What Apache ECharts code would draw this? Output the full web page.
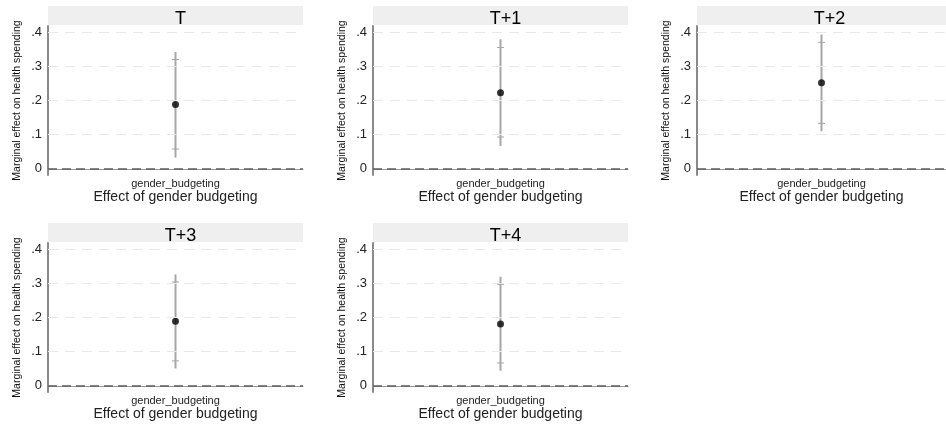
<!DOCTYPE html>
<html>
<head>
<meta charset="utf-8">
<script src="https://cdn.jsdelivr.net/npm/echarts@6/dist/echarts.min.js"></script>
<style>
  html, body { margin: 0; padding: 0; background: #fff; }
  #chart { width: 946px; height: 425px; }
</style>
</head>
<body>
<div id="chart"></div>
<script>
// panel titles and the single x category
var panels = ['T', 'T+1', 'T+2', 'T+3', 'T+4'];
var category = ['gender_budgeting'];

// point estimates and confidence bounds
var estimate = [0.188, 0.223, 0.252, 0.189, 0.181];
var ciOuterLow = [0.033, 0.067, 0.110, 0.051, 0.044];
var ciOuterHigh = [0.342, 0.379, 0.393, 0.326, 0.319];
var ciInnerLow = [0.058, 0.093, 0.133, 0.073, 0.067];
var ciInnerHigh = [0.320, 0.355, 0.370, 0.304, 0.297];

// y tick labels
var yTicks = [0, 0.1, 0.2, 0.3, 0.4];

var chart = echarts.init(document.getElementById('chart'));

// panel boxes (plot area), in px
var boxes = [
    {left: 48, top: 26, width: 255, height: 149},
    {left: 373, top: 26, width: 255, height: 149},
    {left: 697, top: 26, width: 255, height: 149},
    {left: 48, top: 243, width: 255, height: 149},
    {left: 373, top: 243, width: 255, height: 149}
];

var font = 'Liberation Sans, Arial, sans-serif';
var grids = [], xAxes = [], yAxes = [], series = [], titles = [], graphics = [];

boxes.forEach(function (b, i) {
    grids.push({left: b.left, top: b.top, width: b.width, height: b.height, containLabel: false});

    xAxes.push({
        type: 'category',
        gridIndex: i,
        data: category,
        boundaryGap: true,
        axisLine: {lineStyle: {color: '#9a9a9a', width: 1}},
        axisTick: {show: false},
        axisLabel: {fontFamily: font, fontSize: 11, color: '#222', margin: 3},
        name: 'Effect of gender budgeting',
        nameLocation: 'middle',
        nameGap: 14,
        nameTextStyle: {fontFamily: font, fontSize: 14, color: '#222', verticalAlign: 'top'}
    });

    yAxes.push({
        type: 'value',
        gridIndex: i,
        min: -0.018,
        max: 0.418,
        axisLine: {show: true, lineStyle: {color: '#8a8a8a', width: 2}},
        axisTick: {show: false, customValues: yTicks},
        axisLabel: {
            customValues: yTicks,
            fontFamily: font, fontSize: 13, color: '#222', margin: 6,
            formatter: function (v) {
                if (Math.abs(v) < 1e-9) return '0';
                return ('' + (+v.toFixed(2))).replace(/^0/, '');
            }
        },
        splitLine: {show: false},
        name: 'Marginal effect on health spending',
        nameLocation: 'middle',
        nameGap: 25,
        nameTextStyle: {fontFamily: font, fontSize: 10.5, color: '#111'}
    });

    // gridlines and the zero reference line
    series.push({
        type: 'line',
        xAxisIndex: i,
        yAxisIndex: i,
        data: [],
        silent: true,
        markLine: {
            symbol: 'none',
            silent: true,
            label: {show: false},
            data: yTicks.map(function (t) {
                return {
                    yAxis: t,
                    lineStyle: t === 0
                        ? {color: '#5e5e5e', width: 1.6, type: [9, 5]}
                        : {color: '#e8e8e8', width: 1, type: [10, 7]}
                };
            })
        }
    });

    // error bar: outer interval line with small caps at the inner interval
    series.push({
        type: 'custom',
        xAxisIndex: i,
        yAxisIndex: i,
        data: [[0, ciOuterLow[i], ciOuterHigh[i], ciInnerLow[i], ciInnerHigh[i]]],
        renderItem: function (params, api) {
            var lo = api.coord([api.value(0), api.value(1)]);
            var hi = api.coord([api.value(0), api.value(2)]);
            var ilo = api.coord([api.value(0), api.value(3)]);
            var ihi = api.coord([api.value(0), api.value(4)]);
            var st = {stroke: '#a6a6a6', lineWidth: 2};
            var cap = {stroke: '#a6a6a6', lineWidth: 1};
            return {
                type: 'group',
                children: [
                    {type: 'line', shape: {x1: lo[0], y1: lo[1], x2: hi[0], y2: hi[1]}, style: st},
                    {type: 'line', shape: {x1: ilo[0] - 3.5, y1: ilo[1], x2: ilo[0] + 3.5, y2: ilo[1]}, style: cap},
                    {type: 'line', shape: {x1: ihi[0] - 3.5, y1: ihi[1], x2: ihi[0] + 3.5, y2: ihi[1]}, style: cap}
                ]
            };
        },
        z: 3
    });

    series.push({
        type: 'scatter',
        xAxisIndex: i,
        yAxisIndex: i,
        data: [[0, estimate[i]]],
        symbol: 'circle',
        symbolSize: 7,
        itemStyle: {color: '#000'},
        z: 4
    });

    // title strip
    graphics.push({
        type: 'rect',
        shape: {x: b.left, y: b.top - 20, width: b.width, height: 19},
        style: {fill: '#efefef'},
        silent: true
    });
    titles.push({
        text: panels[i],
        left: b.left + b.width / 2,
        top: b.top - 21,
        textAlign: 'center',
        textStyle: {fontFamily: font, fontSize: 18, fontWeight: 'normal', color: '#000'}
    });
});

chart.setOption({
    backgroundColor: '#fff',
    animation: false,
    title: titles,
    grid: grids,
    xAxis: xAxes,
    yAxis: yAxes,
    series: series,
    graphic: graphics
});
</script>
</body>
</html>
